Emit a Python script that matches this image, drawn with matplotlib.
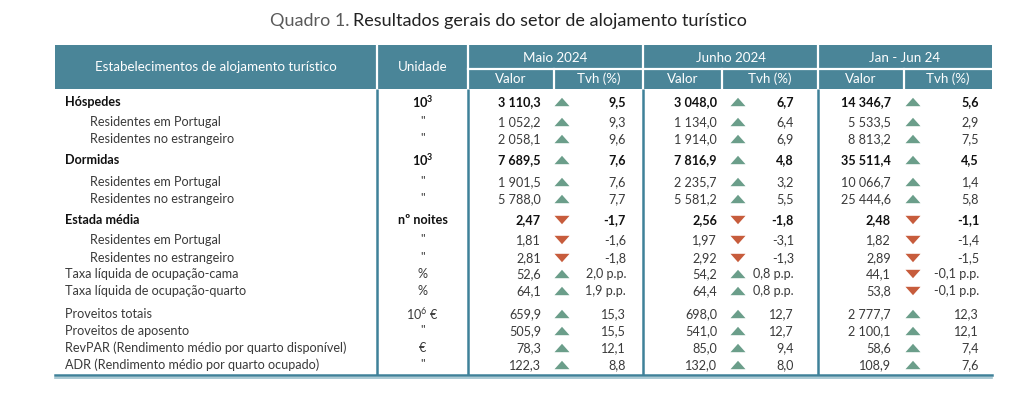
import matplotlib
matplotlib.use("Agg")
from matplotlib import pyplot as plt
from matplotlib.patches import Rectangle, Polygon

plt.rcParams['font.family'] = ['Lato', 'DejaVu Sans']
plt.rcParams['mathtext.fontset'] = 'custom'
plt.rcParams['mathtext.rm'] = 'Lato'
plt.rcParams['mathtext.bf'] = 'Lato:bold'

# ---------------------------------------------------------------
# data
# ---------------------------------------------------------------
title_prefix = "Quadro 1."
title_text = "Resultados gerais do setor de alojamento turístico"

col_header = "Estabelecimentos de alojamento turístico"
unit_header = "Unidade"
periods = ["Maio 2024", "Junho 2024", "Jan - Jun 24"]
sub_headers = ["Valor", "Tvh (%)"]

row_labels = ["Hóspedes", "Residentes em Portugal", "Residentes no estrangeiro",
              "Dormidas", "Residentes em Portugal", "Residentes no estrangeiro",
              "Estada média", "Residentes em Portugal", "Residentes no estrangeiro",
              "Taxa líquida de ocupação-cama", "Taxa líquida de ocupação-quarto",
              "Proveitos totais", "Proveitos de aposento",
              "RevPAR (Rendimento médio por quarto disponível)",
              "ADR (Rendimento médio por quarto ocupado)"]
row_units = [r"$\mathregular{10^3}$", '"', '"', r"$\mathregular{10^3}$", '"', '"',
             "nº noites", '"', '"', "%", "%", r"$\mathregular{10^6}$ €", '"', "€", '"']
row_bold = [1, 0, 0, 1, 0, 0, 1, 0, 0, 0, 0, 0, 0, 0, 0]
row_indent = [0, 1, 1, 0, 1, 1, 0, 1, 1, 0, 0, 0, 0, 0, 0]
row_decimals = [1, 1, 1, 1, 1, 1, 2, 2, 2, 1, 1, 1, 1, 1, 1]
row_pp = [0, 0, 0, 0, 0, 0, 0, 0, 0, 1, 1, 0, 0, 0, 0]

maio_valor = [3110.3, 1052.2, 2058.1, 7689.5, 1901.5, 5788.0, 2.47, 1.81, 2.81,
              52.6, 64.1, 659.9, 505.9, 78.3, 122.3]
maio_tvh = [9.5, 9.3, 9.6, 7.6, 7.6, 7.7, -1.7, -1.6, -1.8,
            2.0, 1.9, 15.3, 15.5, 12.1, 8.8]
junho_valor = [3048.0, 1134.0, 1914.0, 7816.9, 2235.7, 5581.2, 2.56, 1.97, 2.92,
               54.2, 64.4, 698.0, 541.0, 85.0, 132.0]
junho_tvh = [6.7, 6.4, 6.9, 4.8, 3.2, 5.5, -1.8, -3.1, -1.3,
             0.8, 0.8, 12.7, 12.7, 9.4, 8.0]
jan_jun_valor = [14346.7, 5533.5, 8813.2, 35511.4, 10066.7, 25444.6, 2.48, 1.82, 2.89,
                 44.1, 53.8, 2777.7, 2100.1, 58.6, 108.9]
jan_jun_tvh = [5.6, 2.9, 7.5, 4.5, 1.4, 5.8, -1.1, -1.4, -1.5,
               -0.1, -0.1, 12.3, 12.1, 7.4, 7.6]

# ---------------------------------------------------------------
# layout (pixel coordinates)
# ---------------------------------------------------------------
HEAD = '#4a8598'
LINE = '#3f8199'
UP = '#6b9e8a'
DOWN = '#c75c3c'
TXT = '#3a3a3a'
FS = 9.1

col_x = [55, 377, 468, 643, 818, 992]
split_x = [554, 722, 904]
head_top, head_mid, head_bot = 45, 69, 89
body_bot = 375
row_y = [102, 122, 139, 160, 182, 199, 220, 240, 258, 274, 291, 314, 331, 348, 365]

# offsets inside each period column: value right edge, triangle centre, tvh right edge
val_off = [73, 74, 73]
tri_off = [94, 95, 95]
tvh_off = [158, 151, 161]


def fmt_num(v, dec):
    s = f"{abs(v):,.{dec}f}".replace(",", " ").replace(".", ",")
    return ("-" if v < 0 else "") + s


def draw_triangle(ax, x, y, up, w=7.5, h=4.2):
    if up:
        pts = [(x - w, y + h), (x + w, y + h), (x, y - h)]
    else:
        pts = [(x - w, y - h), (x + w, y - h), (x, y + h)]
    ax.add_patch(Polygon(pts, closed=True, color=UP if up else DOWN, lw=0))


fig = plt.figure(figsize=(10.24, 4.04), dpi=100)
ax = fig.add_axes([0, 0, 1, 1])
ax.set_xlim(0, 1024)
ax.set_ylim(404, 0)
ax.axis('off')

# title
ax.text(349, 21, title_prefix, ha='right', va='center', fontsize=13, color='#5a5a5a')
ax.text(353, 21, title_text, ha='left', va='center', fontsize=13, color='#222222')

# header block
ax.add_patch(Rectangle((col_x[0], head_top), col_x[-1] - col_x[0], head_bot - head_top,
                       color=HEAD, lw=0))
for x in col_x[1:-1]:
    ax.plot([x, x], [head_top, head_bot], color='white', lw=1.6)
ax.plot([col_x[2], col_x[-1]], [head_mid, head_mid], color='white', lw=1.6)
for x in split_x:
    ax.plot([x, x], [head_mid, head_bot], color='white', lw=1.6)

HFS = FS + 0.5
ax.text((col_x[0] + col_x[1]) / 2, (head_top + head_bot) / 2, col_header,
        ha='center', va='center', color='white', fontsize=HFS)
ax.text((col_x[1] + col_x[2]) / 2, (head_top + head_bot) / 2, unit_header,
        ha='center', va='center', color='white', fontsize=HFS)
for i, p in enumerate(periods):
    x0, x1 = col_x[2 + i], col_x[3 + i]
    ax.text((x0 + x1) / 2, (head_top + head_mid) / 2 + 1, p, ha='center', va='center',
            color='white', fontsize=HFS)
    ax.text((x0 + split_x[i]) / 2, (head_mid + head_bot) / 2, sub_headers[0],
            ha='center', va='center', color='white', fontsize=HFS)
    ax.text((split_x[i] + x1) / 2, (head_mid + head_bot) / 2, sub_headers[1],
            ha='center', va='center', color='white', fontsize=HFS)

# body vertical lines and bottom double rule
for x in col_x[1:-1]:
    ax.plot([x, x], [head_bot, body_bot], color=LINE, lw=1.8, solid_capstyle='butt')
ax.plot([col_x[0], col_x[-1]], [body_bot, body_bot], color=LINE, lw=1.8)
ax.plot([col_x[0], col_x[-1]], [body_bot + 3, body_bot + 3], color='#9cc0cc', lw=1.2)

# rows
valores = [maio_valor, junho_valor, jan_jun_valor]
tvhs = [maio_tvh, junho_tvh, jan_jun_tvh]
for r, label in enumerate(row_labels):
    y = row_y[r]
    bold = row_bold[r] == 1
    fw = 'bold' if bold else 'normal'
    col = '#111111' if bold else TXT
    lx = col_x[0] + 10 + (25 if row_indent[r] else 0)
    ax.text(lx, y, label, ha='left', va='center', fontsize=FS, fontweight=fw, color=col)
    unit = row_units[r]
    if bold:
        unit = unit.replace(r"\mathregular", r"\mathbf")
    ax.text((col_x[1] + col_x[2]) / 2, y, unit, ha='center', va='center',
            fontsize=FS, fontweight=fw, color=col)
    for i in range(3):
        x0 = col_x[2 + i]
        ax.text(x0 + val_off[i], y, fmt_num(valores[i][r], row_decimals[r]),
                ha='right', va='center', fontsize=FS, fontweight=fw, color=col)
        t = tvhs[i][r]
        draw_triangle(ax, x0 + tri_off[i], y, t > 0)
        s = fmt_num(t, 1) + (" p.p." if row_pp[r] else "")
        ax.text(x0 + tvh_off[i], y, s, ha='right', va='center', fontsize=FS,
                fontweight=fw, color=col)

fig.savefig('out.png', dpi=100)
